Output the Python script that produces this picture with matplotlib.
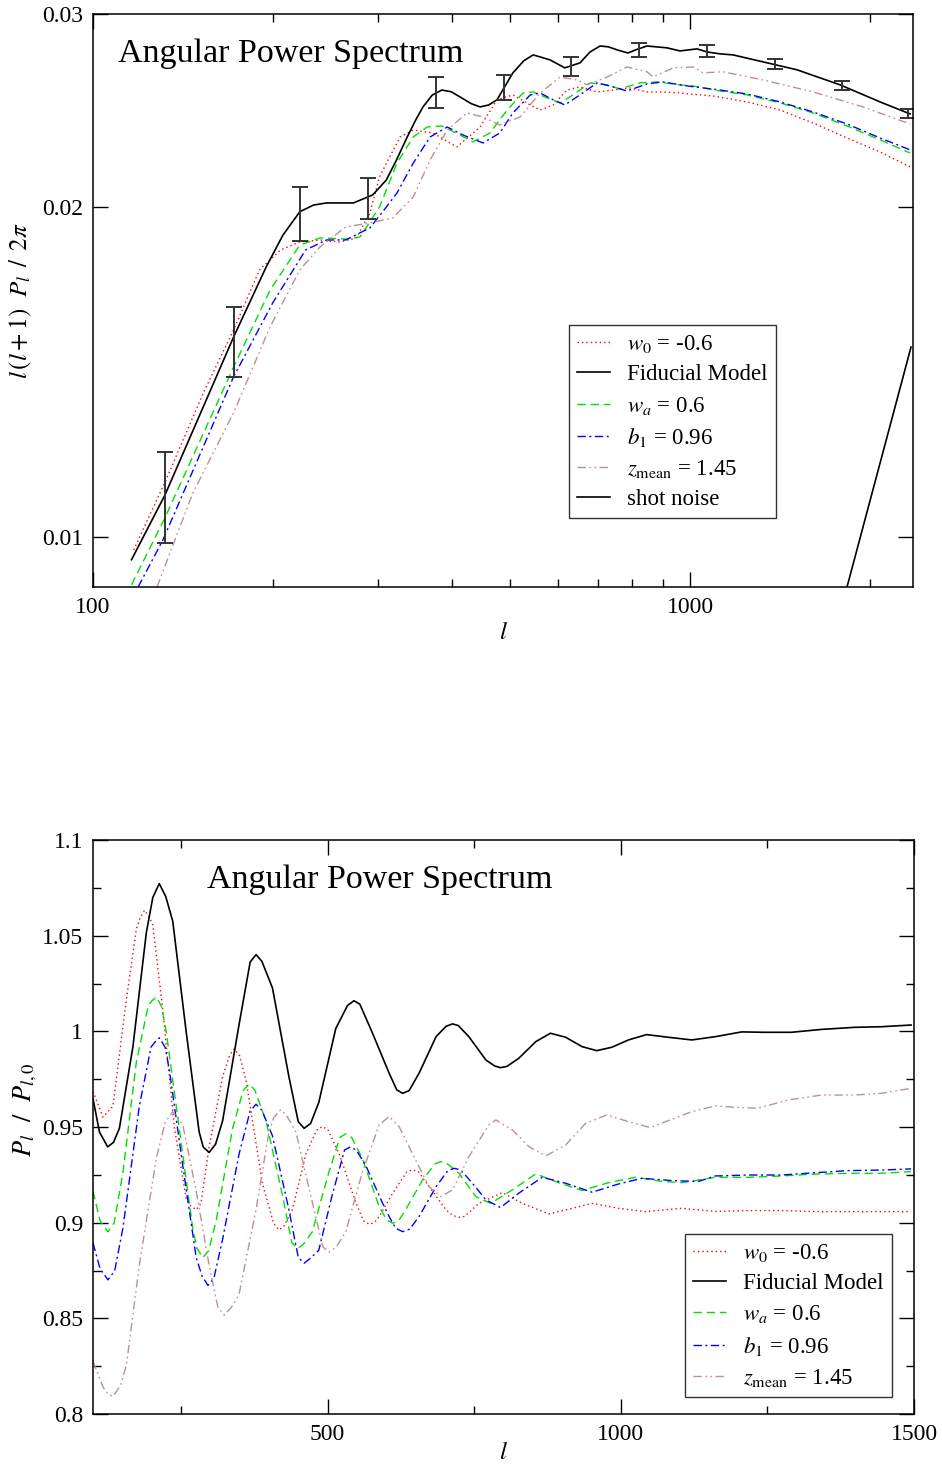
import matplotlib
matplotlib.use('Agg')
import matplotlib.pyplot as plt
from matplotlib.ticker import FixedLocator, NullFormatter, FixedFormatter

plt.rcParams['font.family'] = ['Liberation Serif', 'DejaVu Serif']
plt.rcParams['mathtext.fontset'] = 'stix'

# ---------------- top panel data: l(l+1)P_l/2pi ----------------
fid_l = [116, 132, 172, 195, 208, 222, 234, 246, 273, 294, 310, 322, 336, 347, 357, 370, 384, 398, 412, 430,
         445, 460, 475, 505, 527, 546, 565, 583, 617, 654, 680, 707, 730, 755, 787, 815, 847, 915, 962, 1027,
         1068, 1123, 1180, 1325, 1511, 1784, 2081, 2336]
fid_v = [0.00953, 0.01092, 0.01522, 0.01763, 0.01885, 0.01980, 0.02008, 0.02017, 0.02017, 0.02051, 0.02117,
         0.02205, 0.02317, 0.02400, 0.02468, 0.02530, 0.02557, 0.02548, 0.02520, 0.02485, 0.02468, 0.02478,
         0.02505, 0.02651, 0.02720, 0.02753, 0.02738, 0.02724, 0.02679, 0.02707, 0.02770, 0.02805, 0.02800,
         0.02782, 0.02764, 0.02785, 0.02805, 0.02794, 0.02776, 0.02788, 0.02770, 0.02759, 0.02753, 0.02713,
         0.02668, 0.02585, 0.02494, 0.02432]

w0_l = [117, 132.5, 153, 172, 190, 206, 222, 240, 259, 276, 291, 302, 314, 327, 344, 371, 407, 445, 475, 505,
        540, 561, 590, 622, 654, 699, 743, 793, 847, 901, 962, 1093, 1246, 1415, 1607, 1832, 2081, 2336]
w0_v = [0.00973, 0.01127, 0.01353, 0.01545, 0.01752, 0.01827, 0.01858, 0.01866, 0.01858, 0.01874, 0.01975,
        0.02131, 0.02222, 0.02317, 0.02351, 0.02336, 0.02269, 0.02366, 0.02505, 0.02531, 0.02478, 0.02452,
        0.02478, 0.02557, 0.02574, 0.02547, 0.02557, 0.02568, 0.02547, 0.02547, 0.02541, 0.02525, 0.02494,
        0.02452, 0.02386, 0.02312, 0.02245, 0.02176]

wa_l = [116, 132, 172, 198, 222, 240, 265, 280, 302, 323, 344, 363, 384, 412, 433, 462, 494, 525, 546, 576,
        606, 637, 680, 726, 763, 825, 880, 962, 1012, 1123, 1246, 1415, 1607, 1832, 2081, 2336]
wa_v = [0.00904, 0.01041, 0.01429, 0.01680, 0.01846, 0.01874, 0.01870, 0.01878, 0.02000, 0.02194, 0.02317,
        0.02366, 0.02371, 0.02326, 0.02293, 0.02336, 0.02452, 0.02541, 0.02547, 0.02515, 0.02489, 0.02531,
        0.02596, 0.02585, 0.02563, 0.02596, 0.02601, 0.02585, 0.02579, 0.02552, 0.02531, 0.02489, 0.02437,
        0.02371, 0.02303, 0.02240]

b1_l = [119, 131, 172, 200, 227, 246, 265, 291, 310, 323, 344, 367, 392, 417, 450, 480, 505, 540, 561, 590,
        617, 654, 699, 743, 784, 847, 901, 989, 1123, 1246, 1415, 1607, 1832, 2081, 2336]
b1_v = [0.00900, 0.00994, 0.01400, 0.01635, 0.01827, 0.01866, 0.01866, 0.01914, 0.02000, 0.02060, 0.02194,
        0.02317, 0.02366, 0.02326, 0.02288, 0.02336, 0.02437, 0.02531, 0.02541, 0.02505, 0.02478, 0.02531,
        0.02596, 0.02574, 0.02552, 0.02590, 0.02601, 0.02579, 0.02557, 0.02536, 0.02494, 0.02442, 0.02381,
        0.02312, 0.02255]

zm_l = [128, 147, 172, 198, 222, 240, 265, 291, 318, 344, 367, 392, 423, 450, 480, 519, 561, 606, 647, 672,
        726, 784, 847, 867, 937, 1012, 1051, 1136, 1325, 1607, 1949, 2336]
zm_v = [0.00900, 0.01097, 0.01298, 0.01555, 0.01752, 0.01839, 0.01918, 0.01934, 0.01955, 0.02043, 0.02208,
        0.02351, 0.02437, 0.02416, 0.02376, 0.02416, 0.02541, 0.02628, 0.02612, 0.02585, 0.02628, 0.02684,
        0.02657, 0.02628, 0.02679, 0.02684, 0.02651, 0.02657, 0.02612, 0.02547, 0.02468, 0.02381]

sn_l = [1832, 2345]
sn_v = [0.0090, 0.0149]

err_l = [132, 172, 222, 289, 375, 488, 632, 821, 1068, 1388, 1797, 2318]
err_lo = [0.00988, 0.01400, 0.01863, 0.01951, 0.02463, 0.02505, 0.02634, 0.02742, 0.02742, 0.02673, 0.02557, 0.02412]
err_hi = [0.01196, 0.01621, 0.02086, 0.02126, 0.02629, 0.02640, 0.02742, 0.02823, 0.02811, 0.02730, 0.02607, 0.02458]

# ---------------- bottom panel data: P_l / P_l,0 ----------------
fid2_l = [100, 111, 125, 135, 145, 168, 191, 202, 213, 224, 236, 259, 281, 288, 298, 309, 321, 349, 368, 378,
          388, 406, 434, 450, 460, 471, 485, 514, 534, 545, 555, 576, 605, 618, 628, 639, 656, 685, 702, 713,
          723, 741, 770, 785, 795, 806, 826, 855, 880, 906, 934, 959, 985, 1013, 1044, 1081, 1121, 1161, 1206,
          1246, 1291, 1342, 1399, 1444, 1495]
fid2_v = [0.9648, 0.9474, 0.9396, 0.9420, 0.9493, 0.9918, 1.0517, 1.0700, 1.0772, 1.0705, 1.0575, 0.9995,
          0.9474, 0.9395, 0.9367, 0.9410, 0.9532, 1.0034, 1.0362, 1.0401, 1.0366, 1.0227, 0.9764, 0.9528,
          0.9493, 0.9518, 0.9628, 1.0015, 1.0135, 1.0160, 1.0142, 0.9995, 0.9781, 0.9694, 0.9676, 0.9690,
          0.9781, 0.9972, 1.0026, 1.0039, 1.0030, 0.9972, 0.9850, 0.9819, 0.9810, 0.9817, 0.9859, 0.9946,
          0.9990, 0.9969, 0.9920, 0.9899, 0.9917, 0.9955, 0.9983, 0.9969, 0.9955, 0.9972, 0.9997, 0.9995,
          0.9995, 1.0010, 1.0021, 1.0024, 1.0033]

w02_l = [100, 117, 134, 157, 174, 180, 188, 196, 202, 219, 239, 259, 267, 276, 284, 298, 321, 333, 341, 350,
         361, 389, 408, 417, 426, 440, 463, 481, 491, 501, 520, 548, 561, 571, 580, 588, 611, 635, 645, 655,
         673, 702, 714, 724, 734, 758, 798, 832, 877, 917, 951, 996, 1042, 1104, 1161, 1217, 1274, 1331, 1387,
         1444, 1495]
w02_v = [0.9686, 0.9551, 0.9609, 1.0169, 1.0536, 1.0590, 1.0633, 1.0597, 1.0556, 1.0111, 0.9493, 0.9126,
         0.9085, 0.9068, 0.9100, 0.9396, 0.9764, 0.9876, 0.9908, 0.9872, 0.9744, 0.9203, 0.8997, 0.8962,
         0.8983, 0.9068, 0.9358, 0.9482, 0.9503, 0.9483, 0.9358, 0.9107, 0.9010, 0.8991, 0.9001, 0.9032,
         0.9154, 0.9265, 0.9276, 0.9266, 0.9189, 0.9067, 0.9037, 0.9028, 0.9033, 0.9101, 0.9157, 0.9101,
         0.9046, 0.9075, 0.9101, 0.9075, 0.9058, 0.9075, 0.9059, 0.9063, 0.9063, 0.9058, 0.9058, 0.9058,
         0.9058]

wa2_l = [100, 112, 125.5, 136, 151, 174, 194, 200, 208, 217, 225, 247, 270, 277, 287, 297, 310, 338, 356, 366,
         376, 395, 423, 439, 449, 459, 474, 502, 521, 531, 541, 559, 588, 601, 611, 621, 633, 662, 683, 693,
         703, 724, 753, 778, 815, 855, 894, 934, 979, 1025, 1070, 1104, 1161, 1217, 1274, 1331, 1387, 1444,
         1495]
wa2_v = [0.9165, 0.9010, 0.8952, 0.8999, 0.9261, 0.9841, 1.0131, 1.0158, 1.0179, 1.0130, 0.9995, 0.9493,
         0.8971, 0.8869, 0.8817, 0.8852, 0.9010, 0.9493, 0.9690, 0.9725, 0.9693, 0.9532, 0.9145, 0.8896,
         0.8865, 0.8888, 0.8952, 0.9261, 0.9446, 0.9464, 0.9446, 0.9338, 0.9084, 0.9014, 0.8997, 0.9009,
         0.9067, 0.9223, 0.9307, 0.9319, 0.9311, 0.9258, 0.9136, 0.9101, 0.9171, 0.9255, 0.9209, 0.9168,
         0.9209, 0.9237, 0.9216, 0.9209, 0.9237, 0.9237, 0.9244, 0.9254, 0.9258, 0.9258, 0.9267]

b12_l = [100, 112, 125.5, 137, 151, 179, 199, 206, 213, 223, 230, 253, 276, 286, 296, 306, 321, 349, 368, 378,
         388, 406, 434, 450, 460, 470, 485, 508, 529, 539, 549, 565, 593, 605, 616, 628, 640, 656, 685, 705,
         716, 727, 747, 770, 795, 826, 866, 906, 951, 996, 1036, 1087, 1132, 1161, 1217, 1274, 1331, 1387,
         1444, 1495]
b12_v = [0.8894, 0.8760, 0.8701, 0.8749, 0.8971, 0.9609, 0.9918, 0.9945, 0.9966, 0.9917, 0.9802, 0.9300,
         0.8817, 0.8721, 0.8672, 0.8708, 0.8913, 0.9358, 0.9584, 0.9619, 0.9587, 0.9454, 0.9068, 0.8819,
         0.8788, 0.8812, 0.8856, 0.9145, 0.9380, 0.9396, 0.9379, 0.9300, 0.9107, 0.9032, 0.8971, 0.8953,
         0.8966, 0.9032, 0.9188, 0.9272, 0.9284, 0.9276, 0.9206, 0.9119, 0.9079, 0.9154, 0.9237, 0.9206,
         0.9159, 0.9202, 0.9232, 0.9220, 0.9215, 0.9244, 0.9249, 0.9249, 0.9261, 0.9272, 0.9275, 0.9281]

zm2_l = [100, 117, 125, 134, 147, 157, 179, 208, 223, 236, 247, 253, 276, 298, 313, 324, 336, 349, 378, 400,
         408, 420, 430, 446, 474, 492, 502, 515, 531, 559, 588, 605, 622, 650, 673, 693, 713, 741, 775, 787,
         815, 843, 872, 906, 940, 976, 1013, 1050, 1087, 1121, 1161, 1195, 1234, 1285, 1342, 1399, 1444, 1495]
zm2_v = [0.8276, 0.8141, 0.8105, 0.8092, 0.8149, 0.8257, 0.8778, 0.9338, 0.9523, 0.9580, 0.9540, 0.9512,
         0.9165, 0.8778, 0.8557, 0.8517, 0.8558, 0.8624, 0.9068, 0.9474, 0.9548, 0.9590, 0.9561, 0.9474,
         0.9107, 0.8874, 0.8846, 0.8873, 0.8952, 0.9261, 0.9512, 0.9554, 0.9502, 0.9328, 0.9189, 0.9136,
         0.9171, 0.9345, 0.9511, 0.9537, 0.9485, 0.9398, 0.9349, 0.9406, 0.9519, 0.9563, 0.9528, 0.9497,
         0.9540, 0.9580, 0.9610, 0.9603, 0.9598, 0.9641, 0.9667, 0.9667, 0.9676, 0.9702]

labels = [r'$w_0$ = -0.6', 'Fiducial Model', r'$w_a$ = 0.6', r'$b_1$ = 0.96',
          r'$z_{\rm mean}$ = 1.45', 'shot noise']

# ---------------- styles ----------------
LW = 1.0
st_w0 = dict(color='#ff0000', lw=LW, ls=(0, (1.0, 2.2)))
st_fid = dict(color='black', lw=1.2, ls='-')
st_wa = dict(color='#00e000', lw=LW, ls=(0, (6, 3.5)))
st_b1 = dict(color='#0000ff', lw=LW, ls=(0, (6, 2.5, 1.5, 2.5)))
st_zm = dict(color='#c09090', lw=LW, ls=(0, (6, 2.5, 1.2, 2.5, 1.2, 2.5)))

fig = plt.figure(figsize=(9.42, 14.64), dpi=100)
ax1 = fig.add_axes([93 / 942, 1 - 587 / 1464, 820 / 942, 573 / 1464])
ax2 = fig.add_axes([93 / 942, 1 - 1414 / 1464, 821 / 942, 574 / 1464])

# ---- top ----
ax1.set_xscale('log')
ax1.set_yscale('log')
h = []
h += ax1.plot(w0_l, w0_v, **st_w0)
h += ax1.plot(fid_l, fid_v, **st_fid)
h += ax1.plot(wa_l, wa_v, **st_wa)
h += ax1.plot(b1_l, b1_v, **st_b1)
h += ax1.plot(zm_l, zm_v, **st_zm)
h += ax1.plot(sn_l, sn_v, color='black', lw=1.2)
err_c = [(a * b) ** 0.5 for a, b in zip(err_lo, err_hi)]
ax1.errorbar(err_l, err_c, yerr=[[c - a for c, a in zip(err_c, err_lo)], [b - c for c, b in zip(err_c, err_hi)]],
             fmt='none', ecolor='#333333', elinewidth=1.4, capsize=5.5, capthick=1.4)
ax1.set_xlim(100, 2363)
ax1.set_ylim(0.009, 0.030)
ax1.xaxis.set_major_locator(FixedLocator([100, 1000]))
ax1.xaxis.set_major_formatter(FixedFormatter(['100', '1000']))
ax1.xaxis.set_minor_locator(FixedLocator([200, 300, 400, 500, 600, 700, 800, 900, 2000]))
ax1.xaxis.set_minor_formatter(NullFormatter())
ax1.yaxis.set_major_locator(FixedLocator([0.01, 0.02, 0.03]))
ax1.yaxis.set_major_formatter(FixedFormatter(['0.01', '0.02', '0.03']))
ax1.yaxis.set_minor_locator(FixedLocator([]))
ax1.yaxis.set_minor_formatter(NullFormatter())
ax1.set_xlabel(r'$l$', fontsize=18, labelpad=3)
ax1.set_ylabel(r'$l\,(l+1)\ \ P_l\ \,/\ \,2\pi$', fontsize=18, labelpad=6)
ax1.text(0.0305, 0.916, 'Angular Power Spectrum', transform=ax1.transAxes, fontsize=24.5, va='baseline')
leg_kw = dict(loc='upper left', borderaxespad=0, fontsize=16.5, frameon=True, fancybox=False,
              handlelength=1.45, handletextpad=0.75, labelspacing=0.40, borderpad=0.35)
leg1 = ax1.legend(h, labels, bbox_to_anchor=(0.580, 0.457), **leg_kw)
leg1.get_frame().set_edgecolor('black')
leg1.get_frame().set_linewidth(1.0)

# ---- bottom ----
h2 = []
h2 += ax2.plot(w02_l, w02_v, **st_w0)
h2 += ax2.plot(fid2_l, fid2_v, **st_fid)
h2 += ax2.plot(wa2_l, wa2_v, **st_wa)
h2 += ax2.plot(b12_l, b12_v, **st_b1)
h2 += ax2.plot(zm2_l, zm2_v, **st_zm)
ax2.set_xlim(100, 1500)
ax2.set_ylim(0.8, 1.1)
ax2.xaxis.set_major_locator(FixedLocator([500, 1000, 1500]))
ax2.xaxis.set_major_formatter(FixedFormatter(['500', '1000', '1500']))
ax2.xaxis.set_minor_locator(FixedLocator([250, 750, 1250]))
yt = [0.8, 0.85, 0.9, 0.95, 1.0, 1.05, 1.1]
ax2.yaxis.set_major_locator(FixedLocator(yt))
ax2.yaxis.set_major_formatter(FixedFormatter(['0.8', '0.85', '0.9', '0.95', '1', '1.05', '1.1']))
ax2.yaxis.set_minor_locator(FixedLocator([0.825, 0.875, 0.925, 0.975, 1.025, 1.075]))
ax2.set_xlabel(r'$l$', fontsize=18, labelpad=-2)
ax2.set_ylabel(r'$P_l\ \ /\ \ P_{l,0}$', fontsize=19)
ax2.yaxis.set_label_coords(-0.066, 0.53)
ax2.text(0.139, 0.916, 'Angular Power Spectrum', transform=ax2.transAxes, fontsize=24.5, va='baseline')
leg2 = ax2.legend(h2, labels[:5], bbox_to_anchor=(0.721, 0.3136), **leg_kw)
leg2.get_frame().set_edgecolor('black')
leg2.get_frame().set_linewidth(1.0)

for ax in (ax1, ax2):
    for s in ax.spines.values():
        s.set_linewidth(1.1)
    ax.tick_params(which='both', direction='in', top=True, right=True, labelsize=17)
    ax.tick_params(which='major', length=11, width=1.0, pad=7)
    ax.tick_params(which='minor', length=5.5, width=1.0)

fig.savefig('out.png', dpi=100)
